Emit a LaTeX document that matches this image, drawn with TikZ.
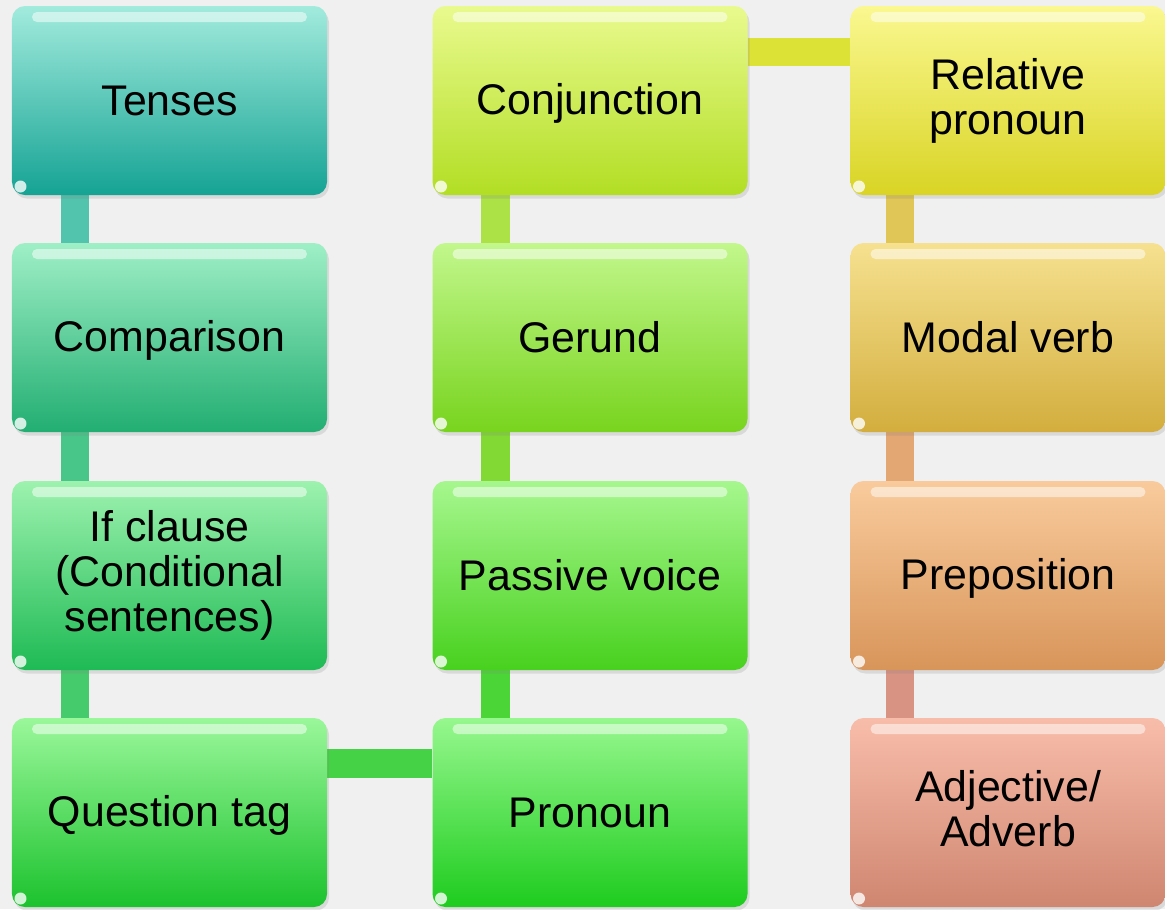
\documentclass[tikz,border=0pt]{standalone}
\usepackage{fontspec}
\setmainfont{Liberation Sans}
\usetikzlibrary{shadows}
\pgfdeclarelayer{bg}
\pgfdeclarelayer{bars}
\pgfsetlayers{bg,bars,main}
\newcommand{\capstrut}{\vrule height 21.5pt depth 4.1pt width 0pt}
\definecolor{paper}{HTML}{F0F0F0}
% box colours: top / bottom
\definecolor{tenT}{HTML}{A2EBDD}  \definecolor{tenB}{HTML}{15A394}
\definecolor{comT}{HTML}{9FEFC6}  \definecolor{comB}{HTML}{22AE72}
\definecolor{ifcT}{HTML}{9DF2AE}  \definecolor{ifcB}{HTML}{1EBA55}
\definecolor{qtgT}{HTML}{9AF79A}  \definecolor{qtgB}{HTML}{1CC22E}
\definecolor{proT}{HTML}{96F78E}  \definecolor{proB}{HTML}{1ECC1E}
\definecolor{pasT}{HTML}{A6F78E}  \definecolor{pasB}{HTML}{48D11E}
\definecolor{gerT}{HTML}{C2F78C}  \definecolor{gerB}{HTML}{78D41E}
\definecolor{conT}{HTML}{E9FA8E}  \definecolor{conB}{HTML}{B2DE24}
\definecolor{relT}{HTML}{FAF890}  \definecolor{relB}{HTML}{D9D424}
\definecolor{modT}{HTML}{F6E190}  \definecolor{modB}{HTML}{D3AE3E}
\definecolor{preT}{HTML}{F9CB9C}  \definecolor{preB}{HTML}{D8955A}
\definecolor{adjT}{HTML}{F8BDAA}  \definecolor{adjB}{HTML}{CF8670}
% bar colours
\definecolor{barA}{HTML}{52C3AC} \definecolor{barB}{HTML}{48C68A}
\definecolor{barC}{HTML}{45CB6C} \definecolor{barD}{HTML}{46D246}
\definecolor{barE}{HTML}{4CD536} \definecolor{barF}{HTML}{82D934}
\definecolor{barG}{HTML}{ACE246} \definecolor{barH}{HTML}{DCE236}
\definecolor{barI}{HTML}{E0C656} \definecolor{barJ}{HTML}{E2A772}
\definecolor{barK}{HTML}{D99383}
\tikzset{
  card/.style 2 args={rounded corners=0.26cm, minimum width=6.3cm, minimum height=3.78cm,
    inner sep=2pt, align=center, top color=#1, bottom color=#2,
    font=\fontsize{24.4}{25.6}\selectfont,
    execute at begin node=\capstrut, execute at end node=\capstrut,
    drop shadow={opacity=0.2, shadow xshift=0.04cm, shadow yshift=-0.07cm},
    path picture={\fill[white, opacity=0.5, rounded corners=0.1cm]
      ([xshift=0.4cm,yshift=-0.12cm]path picture bounding box.north west) rectangle
      ([xshift=-0.4cm,yshift=-0.32cm]path picture bounding box.north east);
      \fill[white, opacity=0.8] ([xshift=0.17cm,yshift=0.17cm]path picture bounding box.south west) circle (0.12cm);}},
  bar/.style={line width=0.57cm, draw=#1}
}
\begin{document}
\begin{tikzpicture}
  \begin{pgfonlayer}{bg}
    \fill[paper] (0,0) rectangle (23.3,-18.18);
  \end{pgfonlayer}
  \useasboundingbox (0,0) rectangle (23.3,-18.18);
  % ------------------------------------------------------------ left column
  \node[card={tenT}{tenB}] (tenses) at (3.39,-2.01) {Tenses};
  \node[card={comT}{comB}] (comparison) at (3.39,-6.75) {Comparison};
  \node[card={ifcT}{ifcB}] (ifclause) at (3.39,-11.51) {If clause\\(Conditional\\sentences)};
  \node[card={qtgT}{qtgB}] (qtag) at (3.39,-16.25) {Question tag};
  % ------------------------------------------------------------ middle column
  \node[card={proT}{proB}] (pronoun) at (11.8,-16.25) {Pronoun};
  \node[card={pasT}{pasB}] (passive) at (11.8,-11.51) {Passive voice};
  \node[card={gerT}{gerB}] (gerund) at (11.8,-6.75) {Gerund};
  \node[card={conT}{conB}] (conj) at (11.8,-2.01) {Conjunction};
  % ------------------------------------------------------------ right column
  \node[card={relT}{relB}] (relpro) at (20.16,-2.01) {Relative\\pronoun};
  \node[card={modT}{modB}] (modal) at (20.16,-6.75) {Modal verb};
  \node[card={preT}{preB}] (prep) at (20.16,-11.51) {Preposition};
  \node[card={adjT}{adjB}] (adj) at (20.16,-16.25) {Adjective/\\Adverb};
  % ------------------------------------------------------------ connectors
  \begin{pgfonlayer}{bars}
    \draw[bar=barA] ([xshift=1.27cm]tenses.south west) -- ([xshift=1.27cm]comparison.north west);
    \draw[bar=barB] ([xshift=1.27cm]comparison.south west) -- ([xshift=1.27cm]ifclause.north west);
    \draw[bar=barC] ([xshift=1.27cm]ifclause.south west) -- ([xshift=1.27cm]qtag.north west);
    \draw[bar=barD] ([yshift=-0.92cm]qtag.north east) -- ([yshift=-0.92cm]pronoun.north west);
    \draw[bar=barE] ([xshift=1.27cm]pronoun.north west) -- ([xshift=1.27cm]passive.south west);
    \draw[bar=barF] ([xshift=1.27cm]passive.north west) -- ([xshift=1.27cm]gerund.south west);
    \draw[bar=barG] ([xshift=1.27cm]gerund.north west) -- ([xshift=1.27cm]conj.south west);
    \draw[bar=barH] ([yshift=-0.93cm]conj.north east) -- ([yshift=-0.93cm]relpro.north west);
    \draw[bar=barI] ([xshift=1.0cm]relpro.south west) -- ([xshift=1.0cm]modal.north west);
    \draw[bar=barJ] ([xshift=1.0cm]modal.south west) -- ([xshift=1.0cm]prep.north west);
    \draw[bar=barK] ([xshift=1.0cm]prep.south west) -- ([xshift=1.0cm]adj.north west);
  \end{pgfonlayer}
\end{tikzpicture}
\end{document}
